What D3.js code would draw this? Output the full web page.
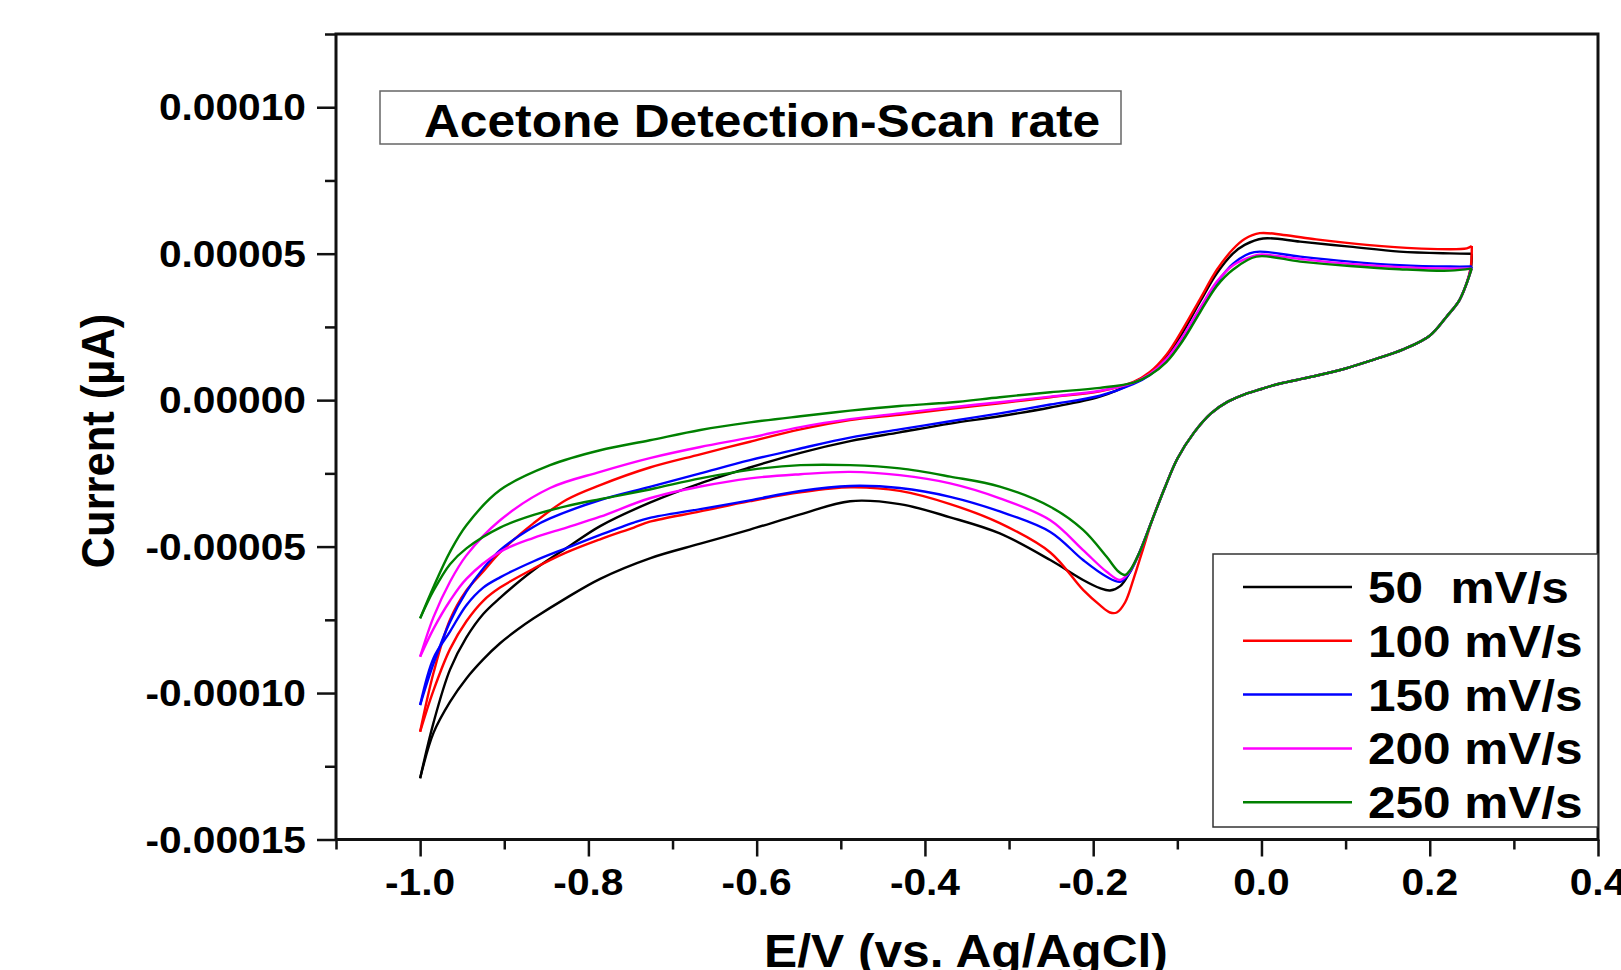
<!DOCTYPE html>
<html>
<head>
<meta charset="utf-8">
<title>Acetone Detection - Scan rate</title>
<script src="https://cdn.jsdelivr.net/npm/d3@7"></script>
<style>
  body { margin: 0; background: #fff; }
  text { font-family: "Liberation Sans", Arial, sans-serif; font-weight: bold; fill: #000; white-space: pre; }
</style>
</head>
<body>
<svg id="chart" width="1621" height="970"></svg>
<script>
// axis ticks
const xTicks = [-1.0, -0.8, -0.6, -0.4, -0.2, 0.0, 0.2, 0.4];
const xTickLabels = ["-1.0", "-0.8", "-0.6", "-0.4", "-0.2", "0.0", "0.2", "0.4"];
const xMinorTicks = [-1.1, -0.9, -0.7, -0.5, -0.3, -0.1, 0.1, 0.3];
const yTicks = [-0.00015, -0.0001, -0.00005, 0, 0.00005, 0.0001];
const yTickLabels = ["-0.00015", "-0.00010", "-0.00005", "0.00000", "0.00005", "0.00010"];
const yMinorTicks = [-0.000125, -0.000075, -0.000025, 0.000025, 0.000075, 0.000125];

const scanRates = ["50  mV/s", "100 mV/s", "150 mV/s", "200 mV/s", "250 mV/s"];
const colors = ["#000000", "#ff0000", "#0000ff", "#ff00ff", "#008000"];

// [E (V), current in units of 1e-5]
// forward scans (-1.0 -> 0.25)
const fwd50 = [[-1.0,-12.91],[-0.984,-11.0],[-0.9645,-9.2],[-0.945,-8.1],[-0.925,-7.3],[-0.905,-6.75],[-0.865,-5.8],[-0.826,-5.05],[-0.786,-4.3],[-0.727,-3.5],[-0.667,-2.84],[-0.608,-2.3],[-0.548,-1.8],[-0.489,-1.4],[-0.43,-1.1],[-0.37,-0.8],[-0.311,-0.55],[-0.251,-0.25],[-0.192,0.12],[-0.152,0.6],[-0.133,0.92],[-0.113,1.48],[-0.093,2.34],[-0.073,3.36],[-0.053,4.33],[-0.034,5.0],[-0.02,5.3],[0.002,5.52],[0.046,5.41],[0.105,5.24],[0.164,5.07],[0.224,5.01],[0.25,5.0]];
const fwd100 = [[-1.0,-11.32],[-0.984,-9.3],[-0.9645,-7.5],[-0.945,-6.5],[-0.925,-5.85],[-0.905,-5.2],[-0.865,-4.2],[-0.826,-3.4],[-0.786,-2.9],[-0.727,-2.3],[-0.667,-1.85],[-0.608,-1.42],[-0.548,-1.0],[-0.489,-0.68],[-0.43,-0.5],[-0.37,-0.3],[-0.311,-0.11],[-0.251,0.1],[-0.192,0.3],[-0.152,0.62],[-0.133,0.95],[-0.113,1.55],[-0.093,2.45],[-0.073,3.45],[-0.053,4.45],[-0.034,5.15],[-0.02,5.5],[-0.002,5.7],[0.026,5.64],[0.065,5.49],[0.125,5.3],[0.184,5.18],[0.244,5.18],[0.25,5.26]];
const fwd150 = [[-1.0,-10.41],[-0.984,-8.99],[-0.9645,-7.57],[-0.945,-6.54],[-0.925,-5.75],[-0.905,-5.12],[-0.865,-4.32],[-0.8456,-4.04],[-0.786,-3.41],[-0.727,-2.96],[-0.667,-2.5],[-0.608,-2.05],[-0.548,-1.65],[-0.489,-1.28],[-0.43,-1.0],[-0.37,-0.72],[-0.311,-0.45],[-0.251,-0.15],[-0.192,0.15],[-0.152,0.55],[-0.133,0.85],[-0.113,1.35],[-0.093,2.15],[-0.073,3.1],[-0.053,4.0],[-0.034,4.65],[-0.014,5.01],[-0.002,5.07],[0.046,4.9],[0.105,4.73],[0.164,4.61],[0.224,4.56],[0.25,4.56]];
const fwd200 = [[-1.0,-8.76],[-0.984,-7.4],[-0.9645,-6.2],[-0.945,-5.3],[-0.905,-4.1],[-0.8456,-3.0],[-0.786,-2.45],[-0.727,-1.98],[-0.667,-1.6],[-0.608,-1.28],[-0.548,-0.92],[-0.489,-0.65],[-0.43,-0.45],[-0.37,-0.25],[-0.311,-0.07],[-0.251,0.12],[-0.192,0.32],[-0.152,0.6],[-0.133,0.88],[-0.113,1.4],[-0.093,2.2],[-0.073,3.15],[-0.053,4.05],[-0.034,4.6],[-0.01,4.92],[0.0,4.97],[0.046,4.82],[0.105,4.65],[0.164,4.54],[0.224,4.49],[0.25,4.5]];
const fwd250 = [[-1.0,-7.45],[-0.984,-6.37],[-0.9645,-5.18],[-0.945,-4.27],[-0.905,-3.07],[-0.8456,-2.22],[-0.786,-1.71],[-0.727,-1.37],[-0.667,-1.02],[-0.608,-0.76],[-0.548,-0.55],[-0.489,-0.36],[-0.43,-0.2],[-0.37,-0.08],[-0.311,0.1],[-0.251,0.27],[-0.192,0.42],[-0.152,0.6],[-0.133,0.85],[-0.113,1.3],[-0.093,2.05],[-0.073,3.0],[-0.053,3.9],[-0.034,4.45],[-0.006,4.9],[0.046,4.73],[0.105,4.58],[0.164,4.47],[0.224,4.42],[0.25,4.5]];

// reverse scans (0.25 -> -1.0); the segment from the switching potential
// down to the start of the cathodic wave is common to all five
const revCommon = [[0.244,4.0],[0.235,3.4],[0.22,2.85],[0.2,2.2],[0.17,1.75],[0.13,1.35],[0.1,1.08],[0.06,0.8],[0.02,0.55],[0.0,0.38],[-0.02,0.2],[-0.04,-0.05],[-0.06,-0.45],[-0.08,-1.1],[-0.1,-2.0],[-0.115,-3.0],[-0.13,-4.1]];
const rev50 = [[0.25,5.0],[0.249,4.5], ...revCommon, [-0.145,-5.2],[-0.158,-5.95],[-0.168,-6.35],[-0.18,-6.5],[-0.192,-6.42],[-0.212,-6.14],[-0.251,-5.46],[-0.311,-4.55],[-0.37,-4.0],[-0.43,-3.55],[-0.489,-3.45],[-0.548,-3.9],[-0.608,-4.42],[-0.667,-4.9],[-0.727,-5.4],[-0.786,-6.1],[-0.826,-6.75],[-0.865,-7.45],[-0.885,-7.85],[-0.905,-8.3],[-0.925,-8.85],[-0.945,-9.5],[-0.9645,-10.3],[-0.984,-11.35],[-1.0,-12.91]];
const rev100 = [[0.25,5.26],[0.249,4.6], ...revCommon, [-0.142,-5.2],[-0.152,-6.1],[-0.162,-6.9],[-0.172,-7.25],[-0.18,-7.25],[-0.192,-7.0],[-0.212,-6.48],[-0.251,-5.2],[-0.311,-4.2],[-0.37,-3.55],[-0.43,-3.1],[-0.489,-2.98],[-0.548,-3.15],[-0.608,-3.45],[-0.667,-3.8],[-0.727,-4.15],[-0.746,-4.35],[-0.786,-4.75],[-0.826,-5.2],[-0.865,-5.75],[-0.905,-6.4],[-0.925,-6.85],[-0.945,-7.55],[-0.9645,-8.5],[-0.984,-9.9],[-1.0,-11.32]];
const rev150 = [[0.25,4.56], ...revCommon, [-0.145,-5.2],[-0.158,-5.95],[-0.168,-6.2],[-0.184,-6.03],[-0.212,-5.46],[-0.251,-4.5],[-0.311,-3.8],[-0.37,-3.3],[-0.43,-3.0],[-0.489,-2.93],[-0.548,-3.1],[-0.608,-3.42],[-0.667,-3.72],[-0.727,-4.02],[-0.746,-4.18],[-0.786,-4.6],[-0.826,-5.05],[-0.865,-5.5],[-0.905,-6.05],[-0.925,-6.4],[-0.945,-7.0],[-0.9645,-7.9],[-0.984,-8.8],[-1.0,-10.41]];
const rev200 = [[0.25,4.5], ...revCommon, [-0.145,-5.2],[-0.158,-5.9],[-0.168,-6.14],[-0.184,-5.86],[-0.212,-5.12],[-0.251,-4.1],[-0.311,-3.35],[-0.37,-2.84],[-0.43,-2.56],[-0.489,-2.45],[-0.548,-2.53],[-0.608,-2.67],[-0.667,-2.95],[-0.727,-3.35],[-0.786,-3.98],[-0.826,-4.35],[-0.865,-4.7],[-0.905,-5.18],[-0.945,-6.1],[-0.9645,-6.85],[-0.984,-7.8],[-1.0,-8.76]];
const rev250 = [[0.25,4.5], ...revCommon, [-0.145,-5.2],[-0.156,-5.8],[-0.162,-5.97],[-0.17,-5.85],[-0.184,-5.35],[-0.212,-4.43],[-0.251,-3.64],[-0.311,-2.95],[-0.37,-2.61],[-0.43,-2.33],[-0.489,-2.22],[-0.548,-2.22],[-0.608,-2.38],[-0.667,-2.67],[-0.727,-3.05],[-0.786,-3.38],[-0.826,-3.62],[-0.865,-3.92],[-0.905,-4.35],[-0.945,-5.06],[-0.9645,-5.6],[-0.984,-6.5],[-1.0,-7.45]];

const forward = [fwd50, fwd100, fwd150, fwd200, fwd250];
const reverse = [rev50, rev100, rev150, rev200, rev250];

const svg = d3.select("#chart");
const plotLeft = 336, plotRight = 1598, plotTop = 34, plotBottom = 839.5;
const sx = 1.1; // text in the figure is slightly stretched sideways

const x = d3.scaleLinear().domain([-1.1, 0.4]).range([plotLeft, plotRight]);
const y = d3.scaleLinear().domain([-0.00015, 0.000125]).range([plotBottom, plotTop]);

// ticks
const tickStyle = g => {
    g.select(".domain").remove();
    g.selectAll("line").attr("stroke", "#111").attr("stroke-width", 2.5);
};
svg.append("g").attr("transform", `translate(0,${plotBottom})`)
    .call(d3.axisBottom(x).tickValues(xTicks).tickSize(17).tickSizeOuter(0).tickFormat(""))
    .call(tickStyle);
svg.append("g").attr("transform", `translate(0,${plotBottom})`)
    .call(d3.axisBottom(x).tickValues(xMinorTicks).tickSize(10).tickSizeOuter(0).tickFormat(""))
    .call(tickStyle);
svg.append("g").attr("transform", `translate(${plotLeft},0)`)
    .call(d3.axisLeft(y).tickValues(yTicks).tickSize(19).tickSizeOuter(0).tickFormat(""))
    .call(tickStyle);
svg.append("g").attr("transform", `translate(${plotLeft},0)`)
    .call(d3.axisLeft(y).tickValues(yMinorTicks).tickSize(11).tickSizeOuter(0).tickFormat(""))
    .call(tickStyle);

// tick labels
svg.append("g").selectAll("text")
    .data(xTicks)
    .join("text")
    .attr("transform", d => `translate(${x(d)},895) scale(${sx},1)`)
    .attr("text-anchor", "middle")
    .attr("font-size", 37)
    .text((d, i) => xTickLabels[i]);

svg.append("g").selectAll("text")
    .data(yTicks)
    .join("text")
    .attr("transform", d => `translate(306,${y(d) + 13}) scale(${sx},1)`)
    .attr("text-anchor", "end")
    .attr("font-size", 37)
    .text((d, i) => yTickLabels[i]);

// curves
const line = d3.line()
    .x(d => x(d[0]))
    .y(d => y(d[1] * 1e-5))
    .curve(d3.curveCatmullRom.alpha(0.5));

const plot = svg.append("g");
scanRates.forEach((s, i) => {
    [forward[i], reverse[i]].forEach(branch => {
        plot.append("path")
            .datum(branch)
            .attr("d", line)
            .attr("fill", "none")
            .attr("stroke", colors[i])
            .attr("stroke-width", 2.4)
            .attr("stroke-linejoin", "round");
    });
});

// frame
svg.append("rect")
    .attr("x", plotLeft).attr("y", plotTop)
    .attr("width", plotRight - plotLeft).attr("height", plotBottom - plotTop)
    .attr("fill", "none").attr("stroke", "#111").attr("stroke-width", 3);

// title box
svg.append("rect")
    .attr("x", 380).attr("y", 91).attr("width", 741).attr("height", 53)
    .attr("fill", "#fff").attr("stroke", "#666").attr("stroke-width", 1.5);
svg.append("text")
    .attr("transform", `translate(424,137) scale(1.08,1)`)
    .attr("font-size", 46)
    .text("Acetone Detection-Scan rate");

// legend
const legend = svg.append("g");
legend.append("rect")
    .attr("x", 1213).attr("y", 554).attr("width", plotRight - 1213).attr("height", 273)
    .attr("fill", "#fff").attr("stroke", "#333").attr("stroke-width", 1.5);
scanRates.forEach((s, i) => {
    const ry = 587 + i * 53.8;
    legend.append("line")
        .attr("x1", 1243).attr("x2", 1352).attr("y1", ry).attr("y2", ry)
        .attr("stroke", colors[i]).attr("stroke-width", 2.5);
    legend.append("text")
        .attr("transform", `translate(1368,${ry + 16}) scale(${sx},1)`)
        .attr("font-size", 45)
        .text(s);
});

// axis titles
svg.append("text")
    .attr("transform", `translate(966,967) scale(1.08,1)`)
    .attr("text-anchor", "middle")
    .attr("font-size", 46)
    .text("E/V (vs. Ag/AgCl)");
svg.append("text")
    .attr("transform", `translate(114,441) rotate(-90) scale(1,1.05)`)
    .attr("text-anchor", "middle")
    .attr("font-size", 43.5)
    .text("Current (µA)");
</script>
</body>
</html>
